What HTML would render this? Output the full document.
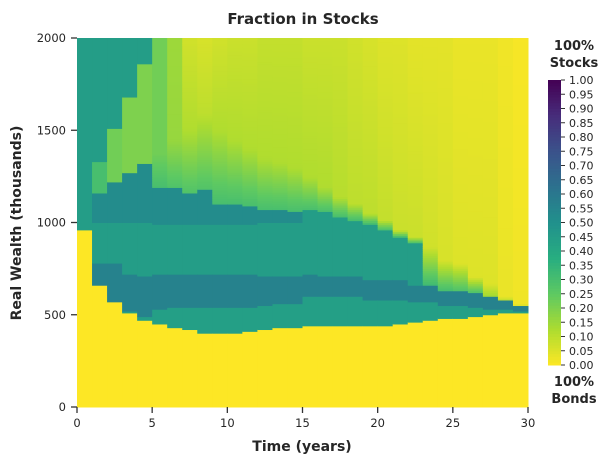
<!DOCTYPE html>
<html><head><meta charset="utf-8"><style>
body{margin:0;background:#fff;font-family:"Liberation Sans","DejaVu Sans",sans-serif;}
svg text{font-family:"DejaVu Sans","Liberation Sans",sans-serif;fill:#262626;}
</style></head><body>
<svg id="chart" width="614" height="464" xmlns="http://www.w3.org/2000/svg">
<text x="303" y="24" text-anchor="middle" font-size="15" font-weight="bold">Fraction in Stocks</text>
<g id="heat"></g>
<g id="axes"></g>
<text x="302" y="451" text-anchor="middle" font-size="14" font-weight="bold">Time (years)</text>
<text transform="translate(21,223) rotate(-90)" text-anchor="middle" font-size="14" font-weight="bold">Real Wealth (thousands)</text>
<g id="cbar"></g>
<text x="574" y="50" text-anchor="middle" font-size="13" font-weight="bold"><tspan x="574">100%</tspan><tspan x="574" dy="17">Stocks</tspan></text>
<text x="574" y="386" text-anchor="middle" font-size="13" font-weight="bold"><tspan x="574">100%</tspan><tspan x="574" dy="17">Bonds</tspan></text>
</svg>
<script>
// per-column band data (wealth in thousands, values as fraction in stocks)
const years = [0,1,2,3,4,5,6,7,8,9,10,11,12,13,14,15,16,17,18,19,20,21,22,23,24,25,26,27,28,29];
const floorW = [960,665,570,510,470,450,435,420,405,400,405,415,425,430,435,440,445,440,440,440,445,450,460,470,480,480,490,500,510,510];
const darkLo = [960,665,570,525,490,526,540,544,544,544,544,544,550,560,562,598,598,598,598,580,580,580,571,571,553,553,544,535,526,517];
const darkHi = [960,780,780,720,715,725,725,725,725,725,725,725,715,706,706,725,706,706,706,688,688,688,661,661,634,634,616,598,580,553];
const midHi = [2000,1000,1000,1000,1000,990,990,990,990,990,990,990,1000,1000,1000,1068,1059,1032,1014,995,959,923,887,661,634,634,616,598,580,553];
const tealTop = [2000,1158,1221,1267,1322,1194,1194,1158,1176,1104,1104,1090,1070,1068,1060,1068,1059,1032,1014,995,959,923,887,661,634,634,616,598,580,553];
const greenTop = [2000,1330,1510,1682,1863,1375,1447,1501,1592,1500,1450,1400,1350,1330,1300,1248,1194,1140,1104,1050,1014,959,923,869,797,779,706,670,600,560];
const greenVal = [0.3,0.3,0.22,0.2,0.2,0.3,0.28,0.28,0.28,0.3,0.3,0.3,0.3,0.3,0.3,0.3,0.3,0.3,0.3,0.3,0.3,0.3,0.32,0.32,0.3,0.28,0.3,0.15,0.1,0.05];
const nearVal = [0.45,0.45,0.45,0.45,0.45,0.22,0.16,0.12,0.1,0.12,0.12,0.12,0.12,0.12,0.12,0.12,0.12,0.11,0.1,0.1,0.09,0.08,0.08,0.07,0.06,0.05,0.05,0.05,0.03,0.02];
const topVal = [0.45,0.45,0.45,0.45,0.45,0.22,0.15,0.07,0.06,0.07,0.08,0.08,0.09,0.09,0.09,0.08,0.08,0.08,0.07,0.06,0.05,0.05,0.04,0.04,0.04,0.03,0.03,0.03,0.02,0.01];
const bandVals = [0.44,0.56,0.45,0.52]; // lower teal, dark band, mid teal, upper teal
const xTicks = [0,5,10,15,20,25,30];
const yTicks = [0,500,1000,1500,2000];
const cbTicks = [0,0.05,0.1,0.15,0.2,0.25,0.3,0.35,0.4,0.45,0.5,0.55,0.6,0.65,0.7,0.75,0.8,0.85,0.9,0.95,1.0];

const NS="http://www.w3.org/2000/svg";
const X0=77,X1=528,Y0=407,Y1=38;
const xs=t=>X0+(X1-X0)*t/30;
const ys=w=>Y0-(Y0-Y1)*w/2000;
const stops=["#440154","#472d7b","#3b528b","#2c728e","#21918c","#28ae80","#5ec962","#addc30","#fde725"];
function hx(c){return [1,3,5].map(i=>parseInt(c.substr(i,2),16));}
function viridis(v){v=Math.max(0,Math.min(1,v));const p=v*8,i=Math.min(7,Math.floor(p)),f=p-i;const a=hx(stops[i]),b=hx(stops[i+1]);return "rgb("+a.map((x,k)=>Math.round(x+(b[k]-x)*f)).join(",")+")";}
const col=v=>viridis(1-v);
function valAt(c,w){
  if(w<floorW[c])return 0;
  if(w<darkLo[c])return bandVals[0];
  if(w<darkHi[c])return bandVals[1];
  if(w<midHi[c])return bandVals[2];
  if(w<tealTop[c])return bandVals[3];
  if(w<greenTop[c]){
    if(nearVal[c]<greenVal[c]){
      const g=(w-tealTop[c])/Math.max(1,greenTop[c]-tealTop[c]);
      return greenVal[c]+(nearVal[c]-greenVal[c])*g;
    }
    return greenVal[c];
  }
  const f=(w-greenTop[c])/Math.max(1,2000-greenTop[c]);
  return nearVal[c]+(topVal[c]-nearVal[c])*f;
}
function mk(tag,attrs,parent){const e=document.createElementNS(NS,tag);for(const k in attrs)e.setAttribute(k,attrs[k]);parent.appendChild(e);return e;}
const heat=document.getElementById('heat');
const step=10;
years.forEach((t,c)=>{
  let start=0,cur=col(valAt(c,step/2));
  for(let w=step;w<=2000;w+=step){
    const nc=w<2000?col(valAt(c,w+step/2)):null;
    if(nc!==cur){
      const r=mk('rect',{x:xs(t),y:ys(w),width:xs(t+1)-xs(t)+0.5,height:ys(start)-ys(w)+0.5,fill:cur},heat);
      
      
      start=w;cur=nc;
    }
  }
});
const axes=document.getElementById('axes');
xTicks.forEach(t=>{
  const l=mk('line',{x1:xs(t),x2:xs(t),y1:Y0,y2:Y0+6,stroke:'#333','stroke-width':1.3},axes);
  
  
  const tx=mk('text',{x:xs(t),y:Y0+20,'text-anchor':'middle','font-size':11.5},axes);
  
  
  tx.textContent=t;
});
yTicks.forEach(w=>{
  const l=mk('line',{x1:X0-6,x2:X0,y1:ys(w),y2:ys(w),stroke:'#333','stroke-width':1.3},axes);
  
  
  const tx=mk('text',{x:X0-11,y:ys(w)+4,'text-anchor':'end','font-size':11.5},axes);
  
  
  tx.textContent=w;
});
const cb=document.getElementById('cbar');
const CX=548,CW=13,CT=80,CB=365;
const cy=v=>CB-(CB-CT)*v;
for(let i=0;i<100;i++){
  const v0=i/100,v1=(i+1)/100;
  const r=mk('rect',{x:CX,y:cy(v1),width:CW,height:cy(v0)-cy(v1)+0.5,fill:col((v0+v1)/2)},cb);
  
  
}
cbTicks.forEach(v=>{
  const l=mk('line',{x1:CX+CW,x2:CX+CW+4,y1:cy(v),y2:cy(v),stroke:'#333','stroke-width':1},cb);
  
  
  const tx=mk('text',{x:CX+CW+8,y:cy(v)+4,'font-size':11},cb);
  
  
  tx.textContent=v.toFixed(2);
});
</script>
</body></html>
